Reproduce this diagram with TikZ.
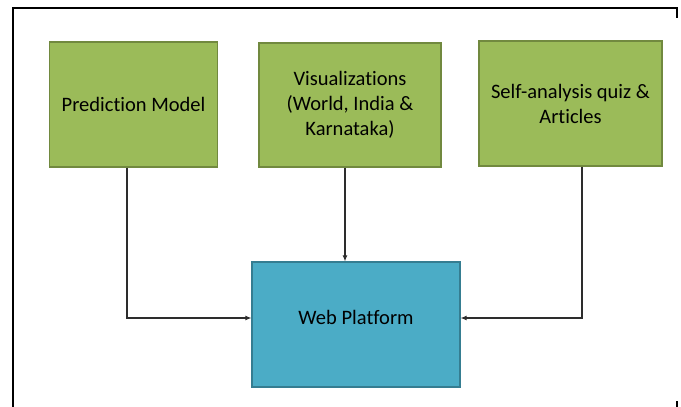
\documentclass[tikz,border=0pt]{standalone}
\usepackage{fontspec}
\setmainfont[Ligatures=NoCommon]{Carlito}
\usetikzlibrary{arrows.meta, positioning}
\definecolor{boxgreen}{RGB}{155, 187, 89}
\definecolor{edgegreen}{RGB}{113, 137, 63}
\definecolor{boxblue}{RGB}{75, 172, 198}
\definecolor{edgeblue}{RGB}{53, 125, 145}
\definecolor{linegray}{RGB}{45, 45, 45}

\begin{document}
\begin{tikzpicture}[
    x=1pt, y=-1pt,
    font=\fontsize{20.5}{25}\selectfont,
    module/.style={draw=edgegreen, line width=1.2pt, fill=boxgreen, align=center, inner sep=0pt},
    platform/.style={draw=edgeblue, line width=1.2pt, fill=boxblue, align=center, inner sep=0pt,
                     minimum width=208pt, minimum height=125pt},
    link/.style={-{Latex[length=6pt, width=5pt]}, linegray, line width=1.1pt},
    frame/.style={black, line width=2pt},
]
\useasboundingbox (0,0) rectangle (681,407);

% --- Outer frame (open at the bottom) ---
\draw[frame] (12.7,407) -- (12.7,8) -- (677,8) -- (677,17.5);
\draw[frame] (677,401) -- (677,407);

% --- Source modules ---
\node[module, minimum width=168pt, minimum height=125pt] (pred) at (133.5,104.5) {Prediction Model};
\node[module, minimum width=182pt, minimum height=124pt] (vis) at (350,105) {Visualizations\\(World, India \&\\Karnataka)};
\node[module, minimum width=183pt, minimum height=125pt] (quiz) at (570.5,103.5) {Self-analysis quiz \&\\Articles};

% --- Target ---
\node[platform, label={[yshift=7.5pt]center:Web Platform}] (web) at (356,324.5) {};

% --- Connectors ---
\draw[link] ([xshift=-6.5pt]pred.south) |- ([yshift=6.5pt]web.west);
\draw[link] ([xshift=-5pt]vis.south) -- ([xshift=-5pt]vis.south |- web.north);
\draw[link] ([xshift=11.5pt]quiz.south) |- ([yshift=6.5pt]web.east);

\end{tikzpicture}
\end{document}
